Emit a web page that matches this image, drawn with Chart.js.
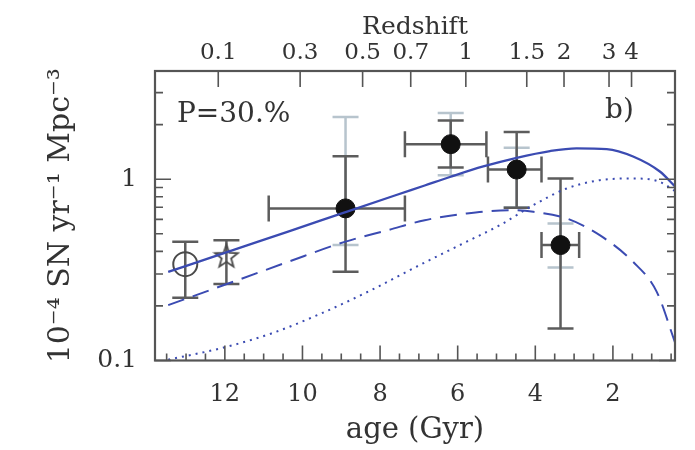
<!DOCTYPE html>
<html>
<head>
<meta charset="utf-8">
<script src="https://cdn.jsdelivr.net/npm/chart.js@4.4.0/dist/chart.umd.min.js"></script>
<style>
  html, body { margin: 0; padding: 0; background: #fff; }
</style>
</head>
<body>
<canvas id="chart" width="695" height="450"></canvas>
<script>
// model curves: age (Gyr) -> rate (10^-4 SN / yr / Mpc^3)
const solidAge = [13.46, 11.83, 10.37, 8.91, 7.62, 6.85, 6.2, 5.34, 4.48, 3.62, 2.94, 2.16, 1.48, 0.79, 0.4];
const solidRate = [0.308, 0.404, 0.514, 0.656, 0.813, 0.923, 1.028, 1.175, 1.312, 1.429, 1.479, 1.466, 1.334, 1.102, 0.912];
const dashAge = [13.46, 11.66, 10.37, 8.91, 7.79, 6.85, 5.77, 4.65, 4.05, 3.19, 2.34, 1.48, 0.87, 0.4];
const dashRate = [0.202, 0.278, 0.350, 0.451, 0.524, 0.594, 0.647, 0.675, 0.661, 0.607, 0.491, 0.350, 0.239, 0.126];
const dotAge = [13.46, 12.09, 10.8, 9.51, 8.22, 6.85, 5.77, 4.91, 4.05, 3.19, 2.34, 1.48, 0.79, 0.4];
const dotRate = [0.101, 0.117, 0.141, 0.182, 0.245, 0.347, 0.452, 0.558, 0.719, 0.889, 0.987, 1.009, 0.966, 0.86];

// measurements (first = open circle, second = star, rest = filled dots)
const dataAge = [13.02, 11.96, 8.89, 6.18, 4.48, 3.35];
const dataRate = [0.340, 0.373, 0.690, 1.56, 1.13, 0.433];
const ageLo = [null, null, 10.87, 7.36, 5.22, 3.84];
const ageHi = [null, null, 7.36, 5.26, 3.84, 2.87];
const rateLo = [0.222, 0.264, 0.309, 1.16, 0.695, 0.150];
const rateHi = [0.452, 0.461, 1.34, 2.11, 1.82, 1.01];
const sysLo = [null, null, 0.433, 1.05, 0.70, 0.326];
const sysHi = [null, null, 2.20, 2.32, 1.49, 0.570];

// top axis: redshift labels and the ages they sit at
const zLabels = ['0.1', '0.3', '0.5', '0.7', '1', '1.5', '2', '3', '4'];
const zAges = [12.17, 10.06, 8.45, 7.21, 5.79, 4.22, 3.26, 2.10, 1.52];

// bottom axis
const ageMajor = [2, 4, 6, 8, 10, 12];
// y axis
const rateTicks = [0.1, 0.2, 0.3, 0.4, 0.5, 0.6, 0.7, 0.8, 0.9, 1, 2, 3];
const rateLabels = [0.1, 1];

const blue = '#3b4bb2';
const frame = '#555';
const dark = '#5c5c5c';
const pale = '#b7c4cd';
const textColor = '#333';
const serif = 'DejaVu Serif';

function pts(xs, ys) {
    return xs.map((v, i) => ({ x: v, y: ys[i] }));
}

function makeStar() {
    const c = document.createElement('canvas');
    c.width = 28;
    c.height = 28;
    const g = c.getContext('2d');
    g.strokeStyle = '#4a4a4a';
    g.lineWidth = 1.8;
    g.beginPath();
    for (let i = 0; i < 10; i++) {
        const r = i % 2 ? 5 : 12;
        const a = -Math.PI / 2 + i * Math.PI / 5;
        const px = 14 + r * Math.cos(a);
        const py = 14 + r * Math.sin(a);
        if (i === 0) g.moveTo(px, py); else g.lineTo(px, py);
    }
    g.closePath();
    g.stroke();
    return c;
}

// error bars drawn through the chart's scales
const errorBars = {
    id: 'errorBars',
    beforeDatasetsDraw(chart) {
        const { ctx, scales: { x, y } } = chart;
        const cap = 13;
        ctx.save();
        ctx.lineWidth = 2.5;

        function vbar(px, lo, hi) {
            const y1 = y.getPixelForValue(lo), y2 = y.getPixelForValue(hi);
            ctx.beginPath();
            ctx.moveTo(px, y1); ctx.lineTo(px, y2);
            ctx.moveTo(px - cap, y1); ctx.lineTo(px + cap, y1);
            ctx.moveTo(px - cap, y2); ctx.lineTo(px + cap, y2);
            ctx.stroke();
        }
        function hbar(py, lo, hi) {
            const x1 = x.getPixelForValue(lo), x2 = x.getPixelForValue(hi);
            ctx.beginPath();
            ctx.moveTo(x1, py); ctx.lineTo(x2, py);
            ctx.moveTo(x1, py - cap); ctx.lineTo(x1, py + cap);
            ctx.moveTo(x2, py - cap); ctx.lineTo(x2, py + cap);
            ctx.stroke();
        }

        ctx.strokeStyle = pale;
        for (let i = 0; i < dataAge.length; i++) {
            if (sysLo[i] === null) continue;
            vbar(x.getPixelForValue(dataAge[i]), sysLo[i], sysHi[i]);
        }
        ctx.strokeStyle = dark;
        for (let i = 0; i < dataAge.length; i++) {
            const px = x.getPixelForValue(dataAge[i]);
            const py = y.getPixelForValue(dataRate[i]);
            vbar(px, rateLo[i], rateHi[i]);
            if (ageLo[i] !== null) hbar(py, ageLo[i], ageHi[i]);
        }
        ctx.restore();
    }
};

// frame, inward tick marks and the two labels inside the panel
const frameAndTicks = {
    id: 'frameAndTicks',
    afterDraw(chart) {
        const { ctx, chartArea: a, scales } = chart;
        ctx.save();
        ctx.strokeStyle = frame;
        ctx.lineWidth = 1.6;
        ctx.beginPath();
        scales.x.ticks.forEach(t => {
            const p = scales.x.getPixelForValue(t.value);
            const len = ageMajor.includes(t.value) ? 15 : 7;
            ctx.moveTo(p, a.bottom); ctx.lineTo(p, a.bottom - len);
        });
        scales.x2.ticks.forEach(t => {
            const p = scales.x2.getPixelForValue(t.value);
            ctx.moveTo(p, a.top); ctx.lineTo(p, a.top + 16);
        });
        ['y', 'y2'].forEach(id => {
            const s = scales[id];
            s.ticks.forEach(t => {
                const p = s.getPixelForValue(t.value);
                const len = rateLabels.includes(t.value) ? 16 : 8;
                if (id === 'y') { ctx.moveTo(a.left, p); ctx.lineTo(a.left + len, p); }
                else { ctx.moveTo(a.right, p); ctx.lineTo(a.right - len, p); }
            });
        });
        ctx.stroke();

        ctx.lineWidth = 2.2;
        ctx.strokeRect(a.left, a.top, a.right - a.left, a.bottom - a.top);

        ctx.fillStyle = textColor;
        ctx.font = '28px "' + serif + '"';
        ctx.textBaseline = 'middle';
        ctx.textAlign = 'left';
        ctx.fillText('P=30.%', a.left + 22, a.top + 44);
        ctx.fillText('b)', a.right - 70, a.top + 40);
        ctx.restore();
    }
};

const ctx = document.getElementById('chart').getContext('2d');
new Chart(ctx, {
    type: 'line',
    data: {
        datasets: [
            {
                data: pts(solidAge, solidRate),
                borderColor: blue, borderWidth: 2.3,
                pointRadius: 0, cubicInterpolationMode: 'monotone'
            },
            {
                data: pts(dashAge, dashRate),
                borderColor: blue, borderWidth: 2, borderDash: [17, 9],
                pointRadius: 0, cubicInterpolationMode: 'monotone'
            },
            {
                data: pts(dotAge, dotRate),
                borderColor: blue, borderWidth: 2, borderDash: [2, 5],
                pointRadius: 0, cubicInterpolationMode: 'monotone'
            },
            {
                data: pts(dataAge.slice(0, 1), dataRate.slice(0, 1)),
                showLine: false, pointStyle: 'circle', pointRadius: 12,
                pointBackgroundColor: 'rgba(0,0,0,0)', pointBorderColor: '#4a4a4a', pointBorderWidth: 2
            },
            {
                data: pts(dataAge.slice(1, 2), dataRate.slice(1, 2)),
                showLine: false, pointStyle: makeStar(), pointRadius: 12
            },
            {
                data: pts(dataAge.slice(2), dataRate.slice(2)),
                showLine: false, pointStyle: 'circle', pointRadius: 9.5,
                pointBackgroundColor: '#111', pointBorderColor: '#111', pointBorderWidth: 1
            }
        ]
    },
    options: {
        responsive: false,
        animation: false,
        layout: { padding: 0 },
        plugins: {
            legend: { display: false },
            tooltip: { enabled: false }
        },
        scales: {
            x: {
                type: 'linear', position: 'bottom', reverse: true, min: 0.4, max: 13.8,
                grid: { display: false, drawTicks: false },
                border: { display: false },
                afterBuildTicks: (s) => {
                    const t = [];
                    for (let v = 0.5; v <= 13.5; v += 0.5) t.push({ value: v });
                    s.ticks = t;
                },
                afterFit: (s) => { s.height = 89.5; },
                ticks: {
                    autoSkip: false, maxRotation: 0, padding: 20, color: textColor,
                    font: { family: serif, size: 24 },
                    callback: (v) => ageMajor.includes(v) ? String(v) : ''
                },
                title: {
                    display: true, text: 'age (Gyr)', color: textColor,
                    font: { family: serif, size: 29 }, padding: { top: 0, bottom: 2 }
                }
            },
            x2: {
                type: 'linear', position: 'top', reverse: true, min: 0.4, max: 13.8,
                grid: { display: false, drawTicks: false },
                border: { display: false },
                afterBuildTicks: (s) => { s.ticks = zAges.map(v => ({ value: v })); },
                afterFit: (s) => { s.height = 71; },
                ticks: {
                    autoSkip: false, maxRotation: 0, padding: 4, color: textColor,
                    font: { family: serif, size: 23 },
                    callback: (v, i) => zLabels[i]
                },
                title: {
                    display: true, text: 'Redshift', color: textColor,
                    font: { family: serif, size: 25 }, padding: { top: 12, bottom: 0 }
                }
            },
            y: {
                type: 'logarithmic', position: 'left', min: 0.1, max: 3.95,
                grid: { display: false, drawTicks: false },
                border: { display: false },
                afterBuildTicks: (s) => { s.ticks = rateTicks.map(v => ({ value: v })); },
                afterFit: (s) => { s.width = 155; },
                ticks: {
                    autoSkip: false, padding: 18, color: textColor,
                    font: { family: serif, size: 25 },
                    callback: (v) => rateLabels.includes(v) ? String(v) : ''
                },
                title: {
                    display: true, text: '10⁻⁴ SN yr⁻¹ Mpc⁻³', color: textColor,
                    font: { family: serif, size: 30 }, padding: { top: 43, bottom: 0 }
                }
            },
            y2: {
                type: 'logarithmic', position: 'right', min: 0.1, max: 3.95,
                grid: { display: false, drawTicks: false },
                border: { display: false },
                afterBuildTicks: (s) => { s.ticks = rateTicks.map(v => ({ value: v })); },
                afterFit: (s) => { s.width = 20; },
                ticks: { display: false }
            }
        }
    },
    plugins: [errorBars, frameAndTicks]
});
</script>
</body>
</html>
